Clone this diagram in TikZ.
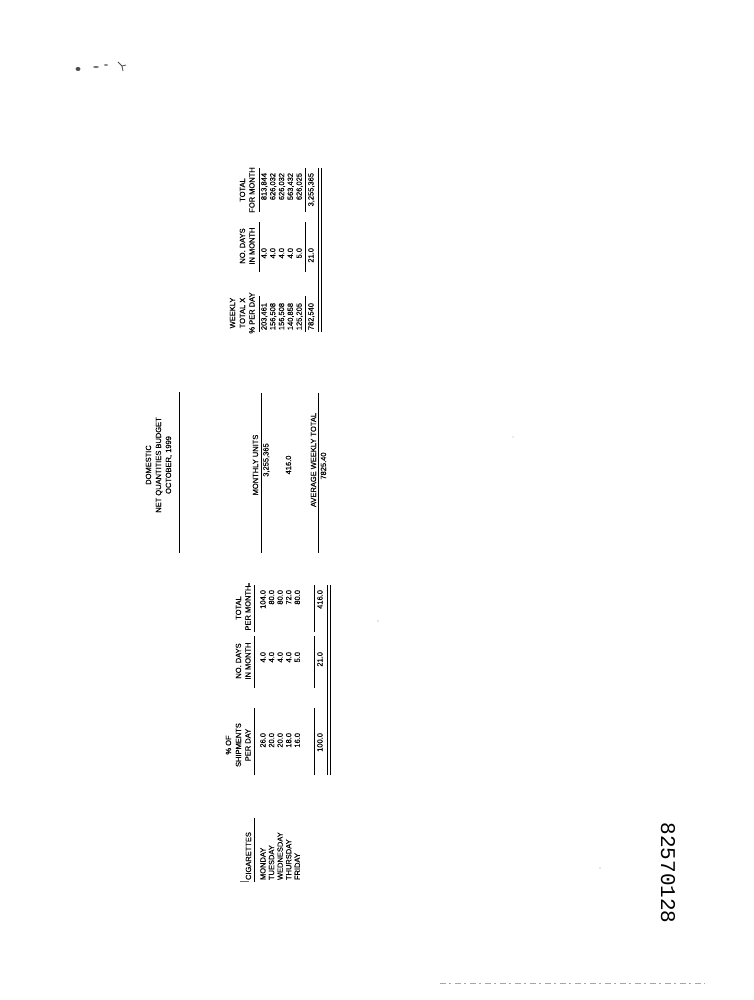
\documentclass[tikz,border=0pt]{standalone}
\usepackage{fontspec}
\setmainfont{Liberation Sans}[FakeBold=0.5]
\newfontfamily\batesfont{Liberation Mono}
\usetikzlibrary{positioning}

\begin{document}
\begin{tikzpicture}[x=1pt,y=-1pt,font=\fontsize{7.5}{9}\selectfont]

	\tikzstyle{txt}=[rotate=90,inner sep=0pt,outer sep=0pt]
	\tikzstyle{rule}=[line width=0.8pt]
	\tikzstyle{speck}=[fill=black!70,draw=none]

	\useasboundingbox (0,0) rectangle (754,1000);

	% title
	\node[txt,anchor=base] (t1) at (151,465) {DOMESTIC};
	\node[txt,anchor=base] (t2) at (161,465) {NET QUANTITIES BUDGET};
	\node[txt,anchor=base] (t3) at (171,465) {OCTOBER, 1999};
	\draw[rule] (179,392) -- (179,553);

	% left table header
	\node[txt,anchor=base west] (cig) at (251,880) {CIGARETTES};
	\node[txt,anchor=base] (p1) at (231,745) {\% OF};
	\node[txt,anchor=base] (p2) at (241,745) {SHIPMENTS};
	\node[txt,anchor=base] (p3) at (250.5,745) {PER DAY};
	\node[txt,anchor=base] (d1) at (241,661) {NO. DAYS};
	\node[txt,anchor=base] (d2) at (250.5,661) {IN MONTH};
	\node[txt,anchor=base] (m1) at (241,608) {TOTAL};
	\node[txt,anchor=base] (m2) at (250.5,608) {PER MONTH};
	\draw[rule] (254,882) -- (254,818);
	\draw[rule] (254,775) -- (254,708);
	\draw[rule] (254,688) -- (254,636);
	\draw[rule] (254,632) -- (254,585);

	% left table rows
	\foreach \day/\pct/\nd/\tot [count=\i from 0] in
		{MONDAY/26.0/4.0/104.0, TUESDAY/20.0/4.0/80.0, WEDNESDAY/20.0/4.0/80.0,
		 THURSDAY/18.0/4.0/72.0, FRIDAY/16.0/5.0/80.0}
	{
		\node[txt,anchor=base west] (day\i) at (265.5+8.6*\i,880) {\day};
		\node[txt,anchor=base east] (pct\i) at (265.5+8.6*\i,733) {\pct};
		\node[txt,anchor=base east] (nd\i) at (265.5+8.6*\i,652) {\nd};
		\node[txt,anchor=base east] (tot\i) at (265.5+8.6*\i,590) {\tot};
	}
	\draw[rule] (314,775) -- (314,708);
	\draw[rule] (314,688) -- (314,636);
	\draw[rule] (314,632) -- (314,585);
	\node[txt,anchor=base east] (pctsum) at (322.5,733) {100.0};
	\node[txt,anchor=base east] (ndsum) at (322.5,652) {21.0};
	\node[txt,anchor=base east] (totsum) at (322.5,590) {416.0};
	\draw[rule] (327.5,775) -- (327.5,585);
	\draw[rule] (330.5,775) -- (330.5,585);

	% middle block
	\node[txt,anchor=base] (mu) at (258,465) {MONTHLY UNITS};
	\draw[rule] (261,393) -- (261,553);
	\node[txt,anchor=base] (mu1) at (268.5,460) {3,255,365};
	\node[txt,anchor=base] (mu2) at (291,465) {416.0};
	\node[txt,anchor=base] (awt) at (316,460) {AVERAGE WEEKLY TOTAL};
	\draw[rule] (318.5,393) -- (318.5,553);
	\node[txt,anchor=base] (awt1) at (326,466) {7825.40};

	% right table header
	\node[txt,anchor=base] (w1) at (235,313) {WEEKLY};
	\node[txt,anchor=base] (w2) at (245,313) {TOTAL X};
	\node[txt,anchor=base] (w3) at (254.5,313) {\% PER DAY};
	\node[txt,anchor=base] (n1) at (245,246) {NO. DAYS};
	\node[txt,anchor=base] (n2) at (254.5,246) {IN MONTH};
	\node[txt,anchor=base] (f1) at (245,190) {TOTAL};
	\node[txt,anchor=base] (f2) at (254.5,190) {FOR MONTH};
	\draw[rule] (259,332) -- (259,296);
	\draw[rule] (259,272) -- (259,222);
	\draw[rule] (259,212) -- (259,168);

	% right table rows
	\foreach \wk/\nd/\fm [count=\i from 0] in
		{{203,461}/4.0/{813,844}, {156,508}/4.0/{626,032}, {156,508}/4.0/{626,032},
		 {140,858}/4.0/{563,432}, {125,205}/5.0/{626,025}}
	{
		\node[txt,anchor=base east] (wk\i) at (266.5+8.8*\i,303) {\wk};
		\node[txt,anchor=base east] (rnd\i) at (266.5+8.8*\i,248) {\nd};
		\node[txt,anchor=base east] (fm\i) at (266.5+8.8*\i,173) {\fm};
	}
	\draw[rule] (305.5,332) -- (305.5,296);
	\draw[rule] (305.5,272) -- (305.5,222);
	\draw[rule] (305.5,212) -- (305.5,168);
	\node[txt,anchor=base east] (wksum) at (313.5,303) {782,540};
	\node[txt,anchor=base east] (rndsum) at (313.5,248) {21.0};
	\node[txt,anchor=base east] (fmsum) at (313.5,173) {3,255,365};
	\draw[rule] (318.5,332) -- (318.5,168);
	\draw[rule] (321.5,332) -- (321.5,168);

	% bates number
	\node[rotate=-90,font=\batesfont\fontsize{21}{21}\selectfont] (bates) at (668,873) {82570128};

	% scan specks
	\fill[speck] (78,69) ellipse (2.5 and 2);
	\fill[speck] (96,67) ellipse (3 and 0.8);
	\fill[speck] (106,65) ellipse (2 and 0.7);
	\draw[black!70,line width=0.8pt] (118,62) -- (122,66) -- (126,65) (122,66) -- (123,71);
	\fill[speck] (248,583) rectangle (250,586);
	\draw[black!60,line width=0.6pt] (240,881) -- (249,881);
	\fill[black!40] (378,621) circle (0.7);
	\fill[black!40] (600,868) circle (0.7);
	\fill[black!30] (513,437) circle (0.6);
	\draw[black!35,line width=0.6pt,dash pattern=on 6pt off 3pt on 2pt off 4pt] (440,983) -- (705,983);

\end{tikzpicture}
\end{document}
